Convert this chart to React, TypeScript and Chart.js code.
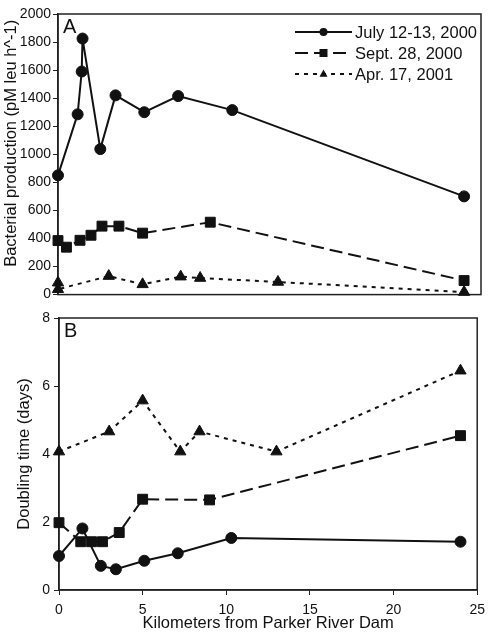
import React, { useEffect, useRef } from "react";
import { Chart, registerables } from "chart.js";

Chart.register(...registerables);

const FONT = "'Liberation Sans', Arial, Helvetica, sans-serif";
const INK = "#111";

// ---------- data ----------
const seriesNames = ["July 12-13, 2000", "Sept. 28, 2000", "Apr. 17, 2001"];

// Panel A: bacterial production (pM leu h^-1)
const julyKmA = [0, 1.16, 1.4, 1.45, 2.5, 3.4, 5.1, 7.1, 10.3, 24];
const julyProd = [850, 1285, 1590, 1825, 1037, 1420, 1300, 1415, 1315, 700];
const septKmA = [0, 0.5, 1.3, 1.95, 2.6, 3.6, 5.0, 9.0, 24];
const septProd = [385, 338, 387, 423, 488, 488, 438, 516, 100];
const aprKmA = [0, 0, 3.0, 5.0, 7.25, 8.4, 13.0, 24];
const aprProd = [85, 38, 132, 73, 128, 118, 90, 18];

// Panel B: doubling time (days)
const julyKmB = [0, 1.4, 2.5, 3.4, 5.1, 7.1, 10.3, 24];
const julyDbl = [1.0, 1.81, 0.71, 0.61, 0.86, 1.08, 1.53, 1.42];
const septKmB = [0, 1.3, 1.95, 2.6, 3.6, 5.0, 9.0, 24];
const septDbl = [1.98, 1.42, 1.42, 1.42, 1.69, 2.67, 2.65, 4.54];
const aprKmB = [0, 3.0, 5.0, 7.25, 8.4, 13.0, 24];
const aprDbl = [4.07, 4.66, 5.57, 4.07, 4.66, 4.07, 6.45];

const xTitle = "Kilometers from Parker River Dam";
const yTitleA = "Bacterial production (pM leu h^-1)";
const yTitleB = "Doubling time (days)";

// ---------- styles ----------
const styles = [
  { pointStyle: "circle", pointRadius: 5.5, borderDash: [] as number[] },
  { pointStyle: "rect", pointRadius: 7, borderDash: [13, 6] },
  { pointStyle: "triangle", pointRadius: 6.5, borderDash: [4, 5] },
];

function makeDataset(i: number, xs: number[], ys: number[]) {
  const s = styles[i];
  return {
    label: seriesNames[i],
    data: xs.map((x, k) => ({ x, y: ys[k] })),
    borderColor: INK,
    backgroundColor: INK,
    pointBackgroundColor: INK,
    pointBorderColor: INK,
    pointBorderWidth: 1,
    borderWidth: 2,
    borderDash: s.borderDash,
    pointStyle: s.pointStyle,
    pointRadius: s.pointRadius,
    tension: 0,
    clip: false as const,
  };
}

function framePlugin(label: string) {
  return {
    id: "frame" + label,
    beforeDatasetsDraw(chart: any) {
      const { ctx, chartArea: a } = chart;
      ctx.save();
      ctx.strokeStyle = "#222";
      ctx.lineWidth = 1.5;
      ctx.strokeRect(a.left, a.top, a.right - a.left, a.bottom - a.top);
      ctx.font = `20px ${FONT}`;
      ctx.fillStyle = INK;
      ctx.textBaseline = "alphabetic";
      ctx.textAlign = "left";
      ctx.fillText(label, a.left + 5, a.top + 19);
      ctx.restore();
    },
  };
}

// y-axis title of panel A, drawn slightly above the plot centre as in the original
const yTitlePlugin = {
  id: "yTitleA",
  afterDraw(chart: any) {
    const { ctx, chartArea: a } = chart;
    ctx.save();
    ctx.font = `16.5px ${FONT}`;
    ctx.fillStyle = INK;
    ctx.textAlign = "center";
    ctx.textBaseline = "middle";
    ctx.translate(11, (a.top + a.bottom) / 2 - 11);
    ctx.rotate(-Math.PI / 2);
    ctx.fillText(yTitleA, 0, 0);
    ctx.restore();
  },
};

function drawMarker(ctx: CanvasRenderingContext2D, style: string, x: number, y: number, r: number) {
  ctx.beginPath();
  if (style === "circle") {
    ctx.arc(x, y, r, 0, Math.PI * 2);
  } else if (style === "rect") {
    ctx.rect(x - r, y - r, 2 * r, 2 * r);
  } else {
    ctx.moveTo(x, y - r * 1.1);
    ctx.lineTo(x + r, y + r * 0.7);
    ctx.lineTo(x - r, y + r * 0.7);
    ctx.closePath();
  }
  ctx.fill();
}

const legendPlugin = {
  id: "customLegend",
  afterDraw(chart: any) {
    const { ctx, chartArea: a } = chart;
    ctx.save();
    ctx.font = `16.5px ${FONT}`;
    ctx.fillStyle = INK;
    ctx.strokeStyle = INK;
    ctx.textBaseline = "middle";
    ctx.textAlign = "left";
    const x0 = a.right - 186;
    chart.data.datasets.forEach((ds: any, i: number) => {
      const y = a.top + 18 + i * 21;
      ctx.lineWidth = 2;
      ctx.setLineDash(ds.borderDash || []);
      ctx.beginPath();
      ctx.moveTo(x0, y);
      ctx.lineTo(x0 + 57, y);
      ctx.stroke();
      ctx.setLineDash([]);
      drawMarker(ctx, ds.pointStyle, x0 + 28.5, y, 4);
      ctx.fillText(ds.label, x0 + 60, y + 1);
    });
    ctx.restore();
  },
};

const tickFont = { family: FONT, size: 14 };
const titleFont = { family: FONT, size: 16.5 };
const plainTick = (v: any) => String(v);

export default function App() {
  const refA = useRef<HTMLCanvasElement | null>(null);
  const refB = useRef<HTMLCanvasElement | null>(null);

  useEffect(() => {
    const chartA = new Chart(refA.current as HTMLCanvasElement, {
      type: "line",
      data: {
        datasets: [
          makeDataset(0, julyKmA, julyProd),
          makeDataset(1, septKmA, septProd),
          makeDataset(2, aprKmA, aprProd),
        ] as any,
      },
      options: {
        responsive: false,
        animation: false,
        devicePixelRatio: 1,
        layout: { padding: { top: 14, right: 11, bottom: 10, left: 0 } },
        plugins: { legend: { display: false }, tooltip: { enabled: false } },
        scales: {
          x: { type: "linear", min: 0, max: 25, display: false },
          y: {
            type: "linear",
            min: 0,
            max: 2000,
            ticks: { stepSize: 200, font: tickFont, color: INK, padding: 2, callback: plainTick },
            grid: { drawOnChartArea: false, tickLength: 5, color: "#222", lineWidth: 1 },
            border: { color: "#222", width: 1.5 },
            title: { display: false },
            afterFit(s: any) {
              s.width = 58;
            },
          },
        },
      } as any,
      plugins: [framePlugin("A"), legendPlugin, yTitlePlugin],
    });

    const chartB = new Chart(refB.current as HTMLCanvasElement, {
      type: "line",
      data: {
        datasets: [
          makeDataset(0, julyKmB, julyDbl),
          makeDataset(1, septKmB, septDbl),
          makeDataset(2, aprKmB, aprDbl),
        ] as any,
      },
      options: {
        responsive: false,
        animation: false,
        devicePixelRatio: 1,
        layout: { padding: { top: 13, right: 8, bottom: 0, left: 0 } },
        plugins: { legend: { display: false }, tooltip: { enabled: false } },
        scales: {
          x: {
            type: "linear",
            min: 0,
            max: 25,
            ticks: { stepSize: 5, font: tickFont, color: INK, padding: 7, callback: plainTick },
            grid: { drawOnChartArea: false, tickLength: 5, color: "#222" },
            border: { color: "#222", width: 1.5 },
            title: { display: true, text: xTitle, font: titleFont, color: INK, padding: { top: 2, bottom: 6 } },
            afterFit(s: any) {
              s.height = 49;
            },
          },
          y: {
            type: "linear",
            min: 0,
            max: 8,
            ticks: { stepSize: 2, font: tickFont, color: INK, padding: 4, callback: plainTick },
            grid: { drawOnChartArea: false, tickLength: 5, color: "#222" },
            border: { color: "#222", width: 1.5 },
            title: { display: true, text: yTitleB, font: titleFont, color: INK, padding: { top: 15, bottom: 4 } },
            afterFit(s: any) {
              s.width = 59;
            },
          },
        },
      } as any,
      plugins: [framePlugin("B")],
    });

    return () => {
      chartA.destroy();
      chartB.destroy();
    };
  }, []);

  return (
    <div style={{ position: "absolute", left: 0, top: 0, width: 492, height: 639, background: "#fff" }}>
      <canvas ref={refA} width={492} height={305} style={{ position: "absolute", left: 0, top: 0, display: "block" }} />
      <canvas ref={refB} width={492} height={334} style={{ position: "absolute", left: 0, top: 305, display: "block" }} />
    </div>
  );
}
